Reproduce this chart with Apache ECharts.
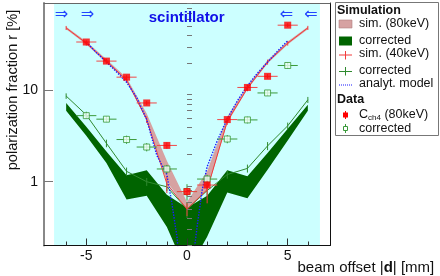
<!DOCTYPE html>
<html><head><meta charset="utf-8">
<script src="https://cdn.jsdelivr.net/npm/echarts@6/dist/echarts.min.js"></script>
<style>html,body{margin:0;padding:0;background:#fff}#c{width:440px;height:276px}</style>
</head><body><div id="c"></div>
<script>
// ---- data ----
const xPts = [-6, -5, -4, -3, -2, -1, 0, 1, 2, 3, 4, 5, 6];
const sim80Lo = [47, 32, 20.3, 12.7, 4.7, 1.0, 0.5, 0.8, 4.4, 10.3, 19.8, 32, 47];
const sim80Hi = [50, 34.5, 22, 13.8, 5.6, 1.7, 0.6, 1.3, 5.2, 11.3, 21.5, 34.5, 50];
const sim80CorrLo = [6.0, 3.2, 1.6, 0.64, 0.7, 0.32, 0.1, 0.25, 0.76, 0.66, 1.35, 2.83, 6.0];
const sim80CorrHi = [7.3, 4.0, 2.15, 1.18, 1.34, 0.72, 0.52, 0.7, 1.34, 1.15, 2.06, 3.8, 7.0];
const sim40 = [48.5, 33, 21, 13, 4.8, 0.95, 0.5, 0.82, 4.6, 10.6, 20.5, 33, 48.6];
const sim40Err = [2.5, 2.0, 1.3, 0.8, 0.4, 0.2, 0.08, 0.24, 0.4, 0.8, 1.3, 2.0, 2.5];
const sim40Corr = [8.7, 5.4, 2.64, 1.3, 1.0, 0.88, 0.5, 0.8, 1.2, 1.4, 2.47, 4.1, 7.9];
const sim40CorrErr = [0.6, 0.45, 0.25, 0.13, 0.1, 0.09, 0.1, 0.1, 0.12, 0.14, 0.25, 0.35, 0.6];
const modelX = [-5, -4.5, -4, -3.5, -3, -2.5, -2, -1.5, -1, -0.75, -0.5, -0.4, 0.35, 0.5, 0.75, 1, 1.5, 2, 2.5, 3, 3.5, 4, 4.5, 5];
const modelY = [34, 26, 20.5, 16, 12.3, 8.4, 4.8, 1.95, 1.2, 0.58, 0.25, 0.15, 0.17, 0.32, 0.8, 1.46, 2.8, 4.9, 7.7, 11.3, 15.5, 20.5, 27, 35];
const dataX = [-5, -4, -3, -2, -1, 0, 1, 2, 3, 4, 5];
const dataCh4 = [34, 21, 14, 7.3, 2.5, 0.78, 0.92, 4.8, 10.8, 14.3, 52];
const dataCh4Err = [1.5, 1.0, 0.7, 0.4, 0.2, 0.08, 0.1, 0.3, 0.6, 0.8, 2.5];
const dataCorr = [5.3, 4.85, 2.9, 2.4, 1.38, 0.78, 1.07, 2.94, 4.76, 9.4, 18.8];
const dataCorrErr = [0.35, 0.35, 0.3, 0.25, 0.15, 0.16, 0.12, 0.3, 0.4, 0.7, 1.4];
const xMajorTicks = [-5, 0, 5];
const xMinorTicks = [-6, -4, -3, -2, -1, 1, 2, 3, 4, 6];
const yMajorTicks = [1, 10];
const yMinorTicks = [0.2, 0.3, 0.4, 0.5, 0.6, 0.7, 0.8, 0.9, 2, 3, 4, 5, 6, 7, 8, 9, 20, 30, 40, 50, 60, 70, 80, 90];

// ---- layout / style ----
const X_MIN = -7.1, X_MAX = 7.1, Y_MIN = 0.2, Y_MAX = 91;
const BG_X = [-6.6, 6.6];
const FONT = "'Liberation Sans', Arial, Helvetica, sans-serif";
const C_CYAN = '#ccffff', C_DKGREEN = '#006400', C_PINK = '#d6a2a2';
const C_RED = '#ff0000', C_REDLINE = '#f23a3a', C_GLINE = '#2f8a2f', C_GDATA = '#3a9a3a', C_BLUE = '#1a1aff';

const chart = echarts.init(document.getElementById('c'), null, {renderer: 'canvas'});

function bandSeries(lo, hi, color, z) {
  return {
    type: 'custom', xAxisIndex: 0, yAxisIndex: 0, clip: true, z: z, silent: true,
    data: [[xPts[0], hi[0]]],
    renderItem: function (params, api) {
      const top = xPts.map((x, i) => api.coord([x, hi[i]]));
      const bot = xPts.map((x, i) => api.coord([x, lo[i]])).reverse();
      return {type: 'polygon', shape: {points: top.concat(bot)}, style: {fill: color}};
    }
  };
}

function errSeries(xs, ys, es, halfW, color, width, z) {
  return {
    type: 'custom', xAxisIndex: 0, yAxisIndex: 0, clip: true, z: z, silent: true,
    data: xs.map((x, i) => [x, ys[i], es[i]]),
    renderItem: function (params, api) {
      const x = api.value(0), y = api.value(1), e = api.value(2);
      const c = api.coord([x, y]);
      const ch = [];
      if (halfW) {
        const l = api.coord([x - halfW, y]), r = api.coord([x + halfW, y]);
        ch.push({type: 'line', shape: {x1: l[0], y1: c[1], x2: r[0], y2: c[1]}, style: {stroke: color, lineWidth: width}});
      }
      const lo = api.coord([x, y - e]), hi = api.coord([x, y + e]);
      ch.push({type: 'line', shape: {x1: c[0], y1: lo[1], x2: c[0], y2: hi[1]}, style: {stroke: color, lineWidth: width}});
      return {type: 'group', children: ch};
    }
  };
}

const legendX = 335, legendY = 2;
function lt(x, y, text, extra) {
  return Object.assign({type: 'text', x: x, y: y, z: 100,
    style: Object.assign({text: text, fill: '#111', font: '12.5px ' + FONT, textVerticalAlign: 'middle'}, extra || {})});
}
function arrow(x, ch) {
  return {type: 'text', x: x, y: 15, z: 50, style: {text: ch, font: "16px 'DejaVu Sans'", fill: '#2244ff', textAlign: 'center', textVerticalAlign: 'middle'}};
}
const legendEls = [
  {type: 'rect', z: 99, shape: {x: legendX + 0.5, y: legendY + 0.5, width: 103, height: 133}, style: {fill: '#fff', stroke: '#777', lineWidth: 1}},
  lt(337, 11, 'Simulation', {font: 'bold 12.5px ' + FONT}),
  {type: 'rect', z: 100, shape: {x: 339, y: 20, width: 13, height: 8}, style: {fill: C_PINK, stroke: '#b08080', lineWidth: 0.6}},
  lt(359, 24, 'sim. (80keV)'),
  {type: 'rect', z: 100, shape: {x: 339, y: 36.5, width: 13, height: 9}, style: {fill: C_DKGREEN}},
  lt(359, 41, 'corrected'),
  {type: 'line', z: 100, shape: {x1: 339, y1: 55, x2: 352, y2: 55}, style: {stroke: C_REDLINE, lineWidth: 1}},
  {type: 'line', z: 100, shape: {x1: 345.5, y1: 51, x2: 345.5, y2: 59.5}, style: {stroke: C_REDLINE, lineWidth: 1}},
  lt(359, 54, 'sim. (40keV)'),
  {type: 'line', z: 100, shape: {x1: 339, y1: 71.5, x2: 352, y2: 71.5}, style: {stroke: C_GLINE, lineWidth: 1}},
  {type: 'line', z: 100, shape: {x1: 345.5, y1: 67, x2: 345.5, y2: 75.5}, style: {stroke: C_GLINE, lineWidth: 1}},
  lt(359, 71, 'corrected'),
  {type: 'line', z: 100, shape: {x1: 339, y1: 85, x2: 353, y2: 85}, style: {stroke: C_BLUE, lineWidth: 1, lineDash: [1, 1]}},
  lt(359, 84, 'analyt. model'),
  lt(337, 100, 'Data', {font: 'bold 12.5px ' + FONT}),
  {type: 'line', z: 100, shape: {x1: 345.5, y1: 111, x2: 345.5, y2: 119}, style: {stroke: C_RED, lineWidth: 1}},
  {type: 'rect', z: 101, shape: {x: 343, y: 112.5, width: 5, height: 5}, style: {fill: C_RED}},
  {type: 'text', x: 359, y: 115, z: 100, style: {
    text: '{n|C}{s|ch4}{n| (80keV)}', fill: '#111', textVerticalAlign: 'middle',
    rich: {n: {font: '12.5px ' + FONT, fill: '#111'}, s: {font: '8px ' + FONT, fill: '#111', verticalAlign: 'bottom', padding: [5, 0, 0, 0]}}
  }},
  {type: 'line', z: 100, shape: {x1: 345.5, y1: 124, x2: 345.5, y2: 133}, style: {stroke: C_GDATA, lineWidth: 1}},
  {type: 'rect', z: 101, shape: {x: 343.5, y: 126.5, width: 4, height: 4}, style: {fill: '#fff', stroke: C_GDATA, lineWidth: 1}},
  lt(359, 128.5, 'corrected')
];

const option = {
  animation: false,
  backgroundColor: '#fff',
  grid: {left: 44, right: 110, top: 3, bottom: 30.5, containLabel: false, outerBoundsMode: 'none'},
  xAxis: [
    {type: 'value', min: X_MIN, max: X_MAX, position: 'bottom', z: 10,
     axisLine: {show: true, onZero: false, lineStyle: {color: '#111', width: 1}},
     axisTick: {show: true, inside: true, length: 7, customValues: xMajorTicks, lineStyle: {color: '#333'}},
     axisLabel: {show: true, customValues: xMajorTicks, margin: 4, fontSize: 14, fontFamily: FONT, color: '#111'},
     splitLine: {show: false},
     name: 'beam offset |{b|d}| [mm]', nameLocation: 'end', nameGap: 0,
     nameTextStyle: {fontSize: 15, fontFamily: FONT, color: '#111', align: 'right', verticalAlign: 'top', padding: [15, 0, 0, 0],
       rich: {b: {fontWeight: 'bold', fontSize: 15, fontFamily: FONT, color: '#111'}}}},
    {type: 'value', min: X_MIN, max: X_MAX, position: 'bottom', z: 10,
     axisLine: {show: false},
     axisTick: {show: true, inside: true, length: 4, customValues: xMinorTicks, lineStyle: {color: '#333'}},
     axisLabel: {show: false}, splitLine: {show: false}},
    {type: 'value', min: X_MIN, max: X_MAX, position: 'top', z: 10,
     axisLine: {show: true, onZero: false, lineStyle: {color: '#666', width: 1}},
     axisTick: {show: false}, axisLabel: {show: false}, splitLine: {show: false}}
  ],
  yAxis: [
    {type: 'log', logBase: 10, min: Y_MIN, max: Y_MAX, position: 'left', z: 10,
     axisLine: {show: true, onZero: false, lineStyle: {color: '#888', width: 2}},
     axisTick: {show: true, inside: true, length: 9, customValues: yMajorTicks, lineStyle: {color: '#777'}},
     axisLabel: {show: true, customValues: yMajorTicks, margin: 6, fontSize: 14, fontFamily: FONT, color: '#111'},
     splitLine: {show: false}, minorTick: {show: false}},
    {type: 'log', logBase: 10, min: Y_MIN, max: Y_MAX, position: 'left', z: 10,
     axisLine: {show: false},
     axisTick: {show: true, inside: true, length: 5, customValues: yMinorTicks, lineStyle: {color: '#777'}},
     axisLabel: {show: false}, splitLine: {show: false}},
    {type: 'log', logBase: 10, min: Y_MIN, max: Y_MAX, position: 'right', z: 10,
     axisLine: {show: true, onZero: false, lineStyle: {color: '#111', width: 1}},
     axisTick: {show: false}, axisLabel: {show: false}, splitLine: {show: false}}
  ],
  series: [
    {type: 'custom', xAxisIndex: 0, yAxisIndex: 0, clip: true, z: 1, silent: true,
     data: [[BG_X[0], Y_MAX]],
     renderItem: function (params, api) {
       const a = api.coord([BG_X[0], Y_MAX]), b = api.coord([BG_X[1], Y_MIN]);
       return {type: 'rect', shape: {x: a[0], y: a[1], width: b[0] - a[0], height: b[1] - a[1]}, style: {fill: C_CYAN}};
     }},
    bandSeries(sim80CorrLo, sim80CorrHi, C_DKGREEN, 2),
    bandSeries(sim80Lo, sim80Hi, C_PINK, 3),
    {type: 'line', xAxisIndex: 0, yAxisIndex: 0, z: 4, symbol: 'none', silent: true,
     data: xPts.map((x, i) => [x, sim40Corr[i]]), lineStyle: {color: C_GLINE, width: 1}},
    errSeries(xPts, sim40Corr, sim40CorrErr, 0, C_GLINE, 1, 4),
    {type: 'line', xAxisIndex: 0, yAxisIndex: 0, z: 5, symbol: 'none', silent: true,
     data: xPts.map((x, i) => [x, sim40[i]]), lineStyle: {color: C_REDLINE, width: 1}},
    errSeries(xPts, sim40, sim40Err, 0, C_REDLINE, 1, 5),
    {type: 'line', xAxisIndex: 0, yAxisIndex: 0, z: 6, symbol: 'none', silent: true, smooth: false,
     data: modelX.map((x, i) => [x, modelY[i]]), lineStyle: {color: C_BLUE, width: 1.4, type: [1.4, 1.4]}},
    errSeries(dataX, dataCorr, dataCorrErr, 0.5, C_GDATA, 1, 7),
    {type: 'scatter', xAxisIndex: 0, yAxisIndex: 0, z: 8, symbol: 'rect', symbolSize: 6, silent: true,
     data: dataX.map((x, i) => [x, dataCorr[i]]),
     itemStyle: {color: '#eefff6', borderColor: C_GDATA, borderWidth: 1}},
    errSeries(dataX, dataCh4, dataCh4Err, 0.5, '#f04848', 1, 9),
    {type: 'scatter', xAxisIndex: 0, yAxisIndex: 0, z: 10, symbol: 'rect', symbolSize: 7, silent: true,
     data: dataX.map((x, i) => [x, dataCh4[i]]),
     itemStyle: {color: C_RED}}
  ],
  graphic: [
    {type: 'text', x: 12.5, y: 90, rotation: Math.PI / 2, z: 50,
     style: {text: 'polarization fraction r [%]', font: '14.6px ' + FONT, fill: '#111', textAlign: 'center', textVerticalAlign: 'middle'}},
    {type: 'text', x: 186.7, y: 18, z: 50, style: {text: 'scintillator', font: 'bold 15px ' + FONT, fill: '#1010e8', textAlign: 'center', textVerticalAlign: 'middle'}},
    arrow(61.5, '\u21D2'), arrow(87.5, '\u21D2'), arrow(286.5, '\u21D0'), arrow(311, '\u21D0')
  ].concat(legendEls)
};
chart.setOption(option);
</script></body></html>
